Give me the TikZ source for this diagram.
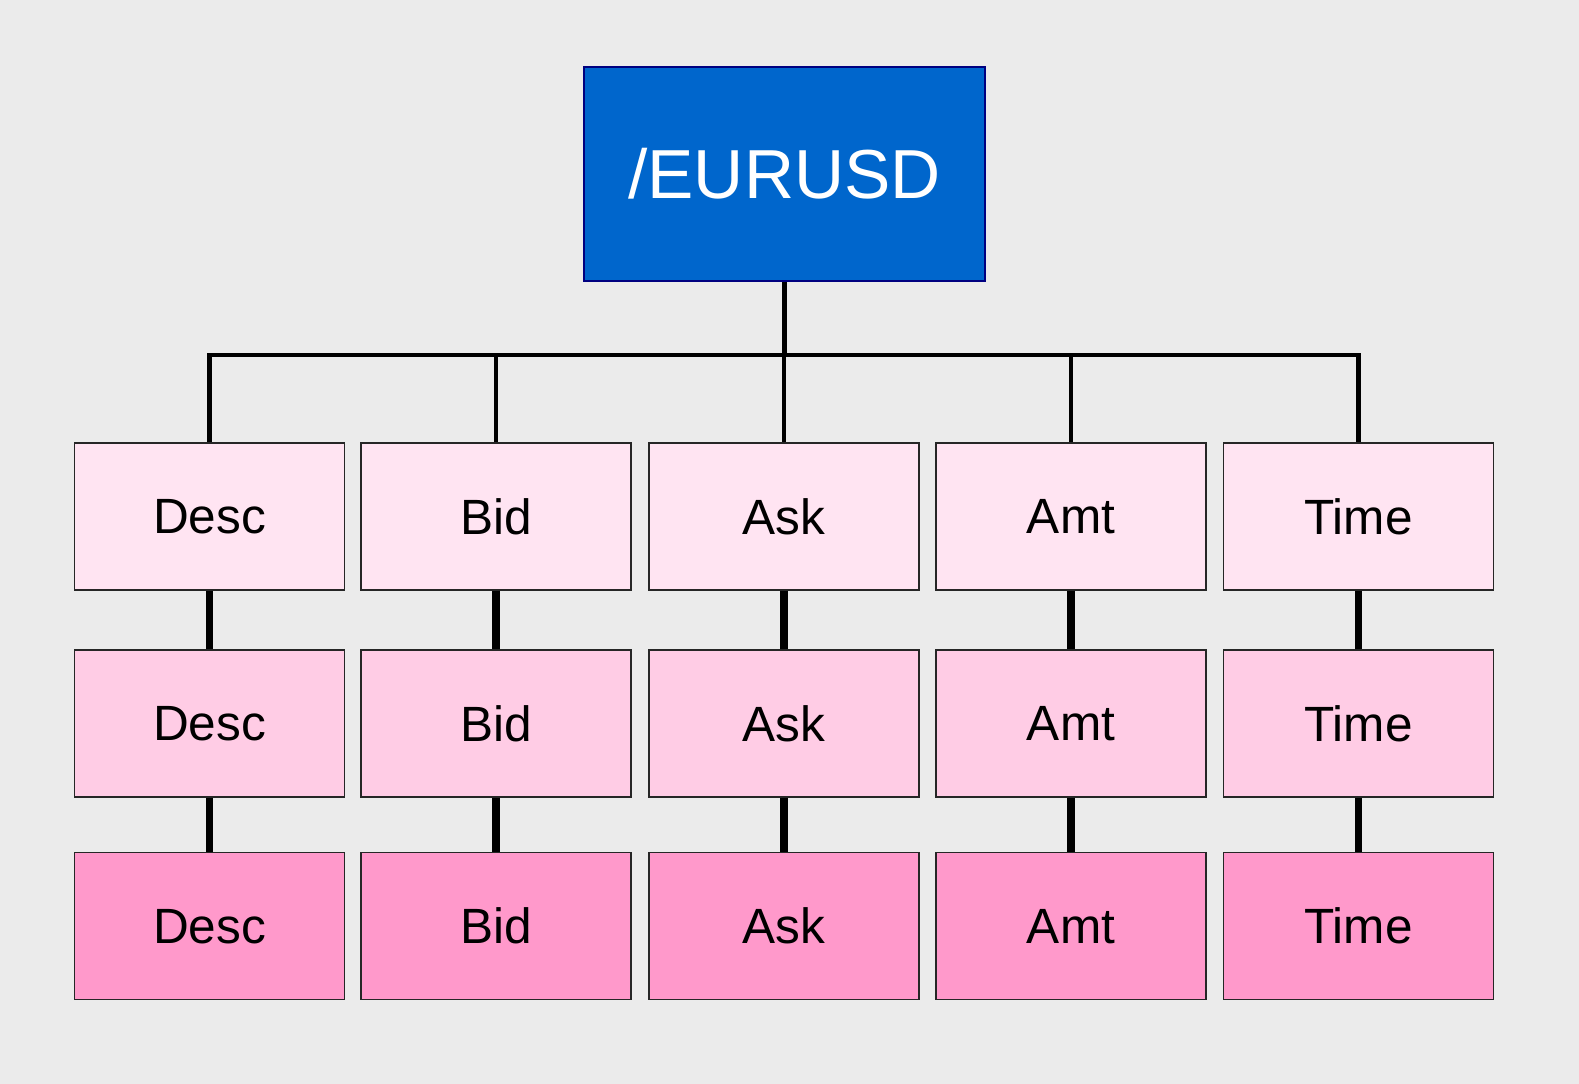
\documentclass[tikz,border=0pt]{standalone}
\usepackage{fontspec}
\setmainfont{Liberation Sans}
\usepackage{tikz}

\definecolor{bg}{HTML}{EBEBEB}
\definecolor{topblue}{HTML}{0066CC}
\definecolor{topline}{HTML}{000080}
\definecolor{pinkA}{HTML}{FFE4F2}
\definecolor{pinkB}{HTML}{FFCCE5}
\definecolor{pinkC}{HTML}{FF99CB}

\begin{document}
\begin{tikzpicture}[
    field/.style = {draw=black!85, line width=0.8pt, minimum width=5.4cm, minimum height=2.94cm,
                    inner sep=0pt, text depth=-0.04cm, font=\fontsize{28.2}{29}\selectfont},
    bus/.style = {line width=2.8pt},
    link/.style = {line width=4pt}]
    \fill[bg] (0,0) rectangle (31.58,-21.68);
    \useasboundingbox (0,0) rectangle (31.58,-21.68);

    \node[draw=topline, line width=0.9pt, fill=topblue, text=white, minimum width=8.02cm,
          minimum height=4.28cm, inner sep=0pt, font=\fontsize{39.5}{40}\selectfont]
          (pair) at (15.69,-3.48) {/EURUSD};
    \coordinate (bus) at (15.69,-7.1);

    % first row
    \node[field, fill=pinkA] (desc1) at (4.19,-10.33) {Desc};
    \node[field, fill=pinkA] (bid1)  at (9.92,-10.33) {Bid};
    \node[field, fill=pinkA] (ask1)  at (15.68,-10.33) {Ask};
    \node[field, fill=pinkA] (amt1)  at (21.42,-10.33) {Amt};
    \node[field, fill=pinkA] (time1) at (27.17,-10.33) {Time};
    % second row
    \node[field, fill=pinkB] (desc2) at (4.19,-14.47) {Desc};
    \node[field, fill=pinkB] (bid2)  at (9.92,-14.47) {Bid};
    \node[field, fill=pinkB] (ask2)  at (15.68,-14.47) {Ask};
    \node[field, fill=pinkB] (amt2)  at (21.42,-14.47) {Amt};
    \node[field, fill=pinkB] (time2) at (27.17,-14.47) {Time};
    % third row
    \node[field, fill=pinkC] (desc3) at (4.19,-18.52) {Desc};
    \node[field, fill=pinkC] (bid3)  at (9.92,-18.52) {Bid};
    \node[field, fill=pinkC] (ask3)  at (15.68,-18.52) {Ask};
    \node[field, fill=pinkC] (amt3)  at (21.42,-18.52) {Amt};
    \node[field, fill=pinkC] (time3) at (27.17,-18.52) {Time};

    \draw[bus] (pair.south) -- (bus);
    \draw[bus] (bus) -| (desc1.north);
    \draw[bus] (bus) -| (bid1.north);
    \draw[bus] (bus) -| (ask1.north);
    \draw[bus] (bus) -| (amt1.north);
    \draw[bus] (bus) -| (time1.north);

    \path[link] (desc1) edge (desc2) (desc2) edge (desc3);
    \path[link] (bid1) edge (bid2) (bid2) edge (bid3);
    \path[link] (ask1) edge (ask2) (ask2) edge (ask3);
    \path[link] (amt1) edge (amt2) (amt2) edge (amt3);
    \path[link] (time1) edge (time2) (time2) edge (time3);
\end{tikzpicture}
\end{document}
